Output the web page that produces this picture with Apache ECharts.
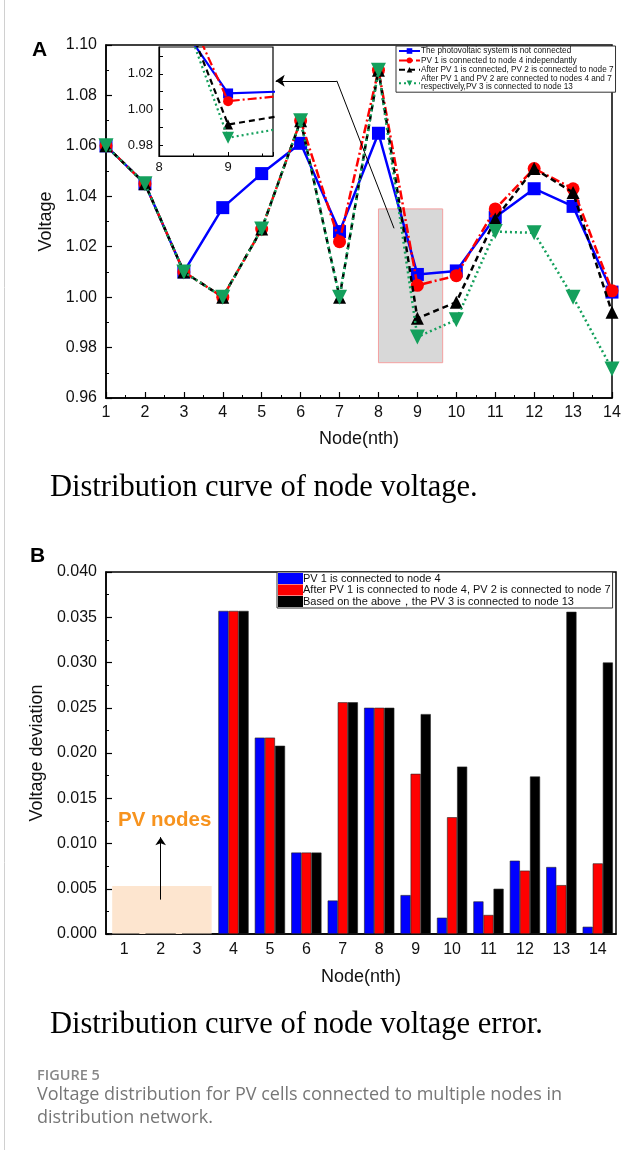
<!DOCTYPE html>
<html>
<head>
<meta charset="utf-8">
<script src="https://cdn.jsdelivr.net/npm/echarts@6/dist/echarts.min.js"></script>
<style>
  html, body { margin: 0; padding: 0; background: #fff; }
  #main { width: 639px; height: 1150px; }
</style>
</head>
<body>
<div id="main"></div>
<script>
// node numbers
var nodes = [1, 2, 3, 4, 5, 6, 7, 8, 9, 10, 11, 12, 13, 14];
var nodeLabels = ['1', '2', '3', '4', '5', '6', '7', '8', '9', '10', '11', '12', '13', '14'];

// panel A: node voltage (p.u.)
var voltNone  = [1.060, 1.045, 1.010, 1.0355, 1.049, 1.061, 1.026, 1.065, 1.009, 1.0104, 1.0317, 1.043, 1.036, 1.002];
var voltPV1   = [1.060, 1.045, 1.010, 1.000, 1.027, 1.070, 1.022, 1.090, 1.0047, 1.0085, 1.035, 1.051, 1.043, 1.0025];
var voltPV12  = [1.060, 1.045, 1.010, 1.000, 1.027, 1.070, 1.000, 1.090, 0.9916, 0.998, 1.031, 1.051, 1.0415, 0.994];
var voltPV123 = [1.060, 1.045, 1.010, 1.000, 1.027, 1.070, 1.000, 1.090, 0.9842, 0.991, 1.026, 1.0255, 1.000, 0.9715];

// zoomed region shown in the inset
var zoomX = [8, 9.65];
var zoomY = [0.974, 1.035];

// panel B: voltage deviation
var devPV1   = [0, 0, 0, 0.0357, 0.0217, 0.0090, 0.0037, 0.0250, 0.0043, 0.0018, 0.0036, 0.0081, 0.0074, 0.0008];
var devPV12  = [0, 0, 0, 0.0357, 0.0217, 0.0090, 0.0256, 0.0250, 0.0177, 0.0129, 0.0021, 0.0070, 0.0054, 0.0078];
var devPV123 = [0, 0, 0, 0.0357, 0.0208, 0.0090, 0.0256, 0.0250, 0.0243, 0.0185, 0.0050, 0.0174, 0.0356, 0.0300];

var lineNames = [
  'The photovoltaic system is not connected',
  'PV 1 is connected to node 4 independantly',
  'After PV 1 is connected, PV 2 is connected to node 7',
  'After PV 1 and PV 2 are connected to nodes 4 and 7 respectively,PV 3 is connected to node 13'
];
var barNames = [
  'PV 1 is connected to node 4',
  'After PV 1 is connected to node 4, PV 2 is connected to node 7',
  'Based on the above，the PV 3 is connected to node 13'
];

var GREEN = '#14a05c';
var FONT = 'Liberation Sans';

function pairs(arr) {
  return nodes.map(function (n, i) { return [n, arr[i]]; });
}
function pairsIn(arr) {
  var out = [];
  nodes.forEach(function (n, i) { if (n >= 8 && n <= 10) out.push([n, arr[i]]); });
  return out;
}

// line style per series: color, dash, symbol, size, rotate
var lineStyles = [
  { color: '#0000ff', type: 'solid', symbol: 'rect', size: 13, rot: 0 },
  { color: '#ff0000', type: [9, 3, 2, 3], symbol: 'circle', size: 13, rot: 0 },
  { color: '#000000', type: [6, 4], symbol: 'triangle', size: 13, rot: 0 },
  { color: GREEN, type: [2, 3], symbol: 'triangle', size: 15, rot: 180 }
];
var lineData = [voltNone, voltPV1, voltPV12, voltPV123];

var series = [];
lineData.forEach(function (arr, k) {
  var s = lineStyles[k];
  series.push({
    name: lineNames[k], type: 'line', xAxisIndex: 0, yAxisIndex: 0,
    data: pairs(arr), symbol: s.symbol, symbolSize: s.size, symbolRotate: s.rot,
    lineStyle: { color: s.color, width: 2.5, type: s.type },
    itemStyle: { color: s.color }, z: 2 + k * 0.1
  });
});
lineData.forEach(function (arr, k) {
  var s = lineStyles[k];
  series.push({
    name: lineNames[k], type: 'line', xAxisIndex: 1, yAxisIndex: 1,
    data: pairsIn(arr), symbol: s.symbol, symbolSize: s.size - 3, symbolRotate: s.rot,
    lineStyle: { color: s.color, width: 2.2, type: s.type },
    itemStyle: { color: s.color }, clip: true, z: 6 + k * 0.1
  });
});

// gray zoom box + arrow to the inset
series.push({
  type: 'line', xAxisIndex: 0, yAxisIndex: 0, data: [], clip: false, z: 10, silent: true,
  markArea: {
    silent: true,
    itemStyle: { color: 'rgba(190,190,190,0.6)', borderColor: '#f4a0a0', borderWidth: 1 },
    data: [[{ coord: [zoomX[0], zoomY[1]] }, { coord: [zoomX[1], zoomY[0]] }]]
  },
  markLine: {
    silent: true, symbol: ['none', 'none'], symbolSize: 9,
    label: { show: false },
    lineStyle: { color: '#000', width: 1, type: 'solid' },
    data: [
      [{ coord: [8.4, 1.0273] }, { coord: [6.93, 1.0858] }],
      [{ coord: [6.93, 1.0858] }, { coord: [5.36, 1.0858], symbol: 'arrow' }]
    ]
  }
});

var barColors = ['#0000ff', '#ff0000', '#000000'];
[devPV1, devPV12, devPV123].forEach(function (arr, k) {
  series.push({
    name: barNames[k], type: 'bar', xAxisIndex: 2, yAxisIndex: 2,
    data: arr, barGap: '0%', barCategoryGap: '17%',
    itemStyle: { color: barColors[k], borderColor: '#222', borderWidth: 0.6 }
  });
});

// PV nodes shading + arrow
series.push({
  type: 'line', xAxisIndex: 3, yAxisIndex: 2, data: [], clip: false, z: 1, silent: true,
  markArea: {
    silent: true,
    itemStyle: { color: '#fde5cf' },
    data: [[{ coord: [-0.33, 0.0053] }, { coord: [2.4, -0.0011] }]]
  },
  markLine: {
    silent: true, symbol: ['none', 'arrow'], symbolSize: 8,
    label: { show: false },
    lineStyle: { color: '#000', width: 1, type: 'solid' },
    data: [[{ coord: [1, 0.0038] }, { coord: [1, 0.0107] }]]
  }
});

function tickAxis(extra) {
  var base = {
    axisLine: { onZero: false, lineStyle: { color: '#000', width: 1.5 } },
    axisTick: { inside: true, length: 6, lineStyle: { color: '#000', width: 1.2 } },
    minorTick: { show: true, splitNumber: 2, length: 3, lineStyle: { color: '#000', width: 1 } },
    splitLine: { show: false },
    axisLabel: { color: '#111', fontSize: 16, fontFamily: FONT },
    nameTextStyle: { color: '#111', fontSize: 18, fontFamily: FONT }
  };
  for (var k in extra) base[k] = extra[k];
  return base;
}

var option = {
  animation: false,
  textStyle: { fontFamily: FONT },
  grid: [
    { left: 106, top: 45, width: 506, height: 353, show: true, borderColor: '#000', borderWidth: 1.5, backgroundColor: 'transparent' },
    { left: 159, top: 47, width: 114, height: 109, show: true, borderColor: '#000', borderWidth: 1.2, backgroundColor: '#fff', z: 3 },
    { left: 106, top: 572, width: 510, height: 362, show: true, borderColor: '#000', borderWidth: 1.5, backgroundColor: 'transparent' }
  ],
  legend: [
    {
      data: lineNames, orient: 'vertical', left: 396, top: 46,
      itemWidth: 21, itemHeight: 7, itemGap: 1.4, padding: [1, 2, 1, 2],
      backgroundColor: '#fff', borderColor: '#333', borderWidth: 1,
      textStyle: { fontSize: 8.2, color: '#111', fontFamily: FONT, padding: [0, 0, 0, -4] },
      formatter: function (n) { return n.replace(' respectively', '\nrespectively'); },
      selectedMode: false
    },
    {
      data: barNames, orient: 'vertical', left: 277, top: 572,
      icon: 'rect', itemWidth: 25, itemHeight: 11, itemGap: 0.5, padding: [1, 2, 1, 1],
      backgroundColor: '#fff', borderColor: '#333', borderWidth: 1,
      itemStyle: { borderWidth: 0 },
      textStyle: { fontSize: 11, color: '#111', fontFamily: FONT, padding: [0, 0, 0, -5] },
      selectedMode: false
    }
  ],
  xAxis: [
    tickAxis({ gridIndex: 0, type: 'value', min: 1, max: 14, interval: 1,
      name: 'Node(nth)', nameLocation: 'middle', nameGap: 32,
      axisLabel: { color: '#111', fontSize: 16, fontFamily: FONT, margin: 7 } }),
    tickAxis({ gridIndex: 1, type: 'value', min: zoomX[0], max: zoomX[1], interval: 1, z: 4,
      axisTick: { inside: true, length: 4, lineStyle: { color: '#000' } },
      minorTick: { show: true, splitNumber: 2, length: 2.5, lineStyle: { color: '#000' } },
      axisLine: { onZero: false, lineStyle: { color: '#000', width: 1.2 } },
      axisLabel: { color: '#111', fontSize: 13, fontFamily: FONT, margin: 5, showMaxLabel: false,
        formatter: function (v) { return Math.abs(v - Math.round(v)) < 1e-6 ? String(Math.round(v)) : ''; } } }),
    tickAxis({ gridIndex: 2, type: 'category', data: nodeLabels, boundaryGap: true,
      name: 'Node(nth)', nameLocation: 'middle', nameGap: 34,
      axisTick: { inside: true, length: 6, alignWithLabel: true, lineStyle: { color: '#000', width: 1.2 } },
      minorTick: { show: false },
      axisLabel: { color: '#111', fontSize: 16, fontFamily: FONT, margin: 8 } }),
    // hidden value axis used to place the PV nodes annotation (category i sits at value i)
    { gridIndex: 2, type: 'value', min: -0.5, max: 13.5, show: false },
    // boundary ticks between categories
    { gridIndex: 2, type: 'category', data: nodeLabels, boundaryGap: true, position: 'bottom',
      axisLine: { show: false, onZero: false }, axisLabel: { show: false },
      axisTick: { inside: true, length: 3, lineStyle: { color: '#000', width: 1 } } }
  ],
  yAxis: [
    tickAxis({ gridIndex: 0, type: 'value', min: 0.96, max: 1.10, interval: 0.02,
      name: 'Voltage', nameLocation: 'middle', nameGap: 50,
      axisLabel: { color: '#111', fontSize: 16, fontFamily: FONT, margin: 9,
        formatter: function (v) { return v.toFixed(2); } } }),
    tickAxis({ gridIndex: 1, type: 'value', min: zoomY[0], max: zoomY[1], z: 4,
      axisLine: { onZero: false, lineStyle: { color: '#000', width: 1.2 } },
      axisTick: { inside: true, length: 4, lineStyle: { color: '#000' },
        customValues: [0.98, 0.99, 1.00, 1.01, 1.02, 1.03] },
      minorTick: { show: false },
      axisLabel: { color: '#111', fontSize: 13, fontFamily: FONT, margin: 6,
        customValues: [0.98, 1.00, 1.02],
        formatter: function (v) { return v.toFixed(2); } } }),
    tickAxis({ gridIndex: 2, type: 'value', min: 0, max: 0.04, interval: 0.005,
      name: 'Voltage deviation', nameLocation: 'middle', nameGap: 60,
      axisLabel: { color: '#111', fontSize: 16, fontFamily: FONT, margin: 9,
        formatter: function (v) { return v.toFixed(3); } } })
  ],
  graphic: [
    { type: 'line', shape: { x1: 4.5, y1: 0, x2: 4.5, y2: 1150 }, style: { stroke: '#d0d0d0', lineWidth: 1 } },
    { type: 'text', x: 32, y: 50, style: { text: 'A', font: 'bold 21px "Liberation Sans"', fill: '#000', verticalAlign: 'middle' } },
    { type: 'text', x: 30, y: 556, style: { text: 'B', font: 'bold 21px "Liberation Sans"', fill: '#000', verticalAlign: 'middle' } },
    { type: 'text', x: 118, y: 820, style: { text: 'PV nodes', font: 'bold 20.5px "Liberation Sans"', fill: '#f7931e', verticalAlign: 'middle' } },
    { type: 'text', x: 50, y: 488, style: { text: 'Distribution curve of node voltage.', font: '30.5px "Liberation Serif"', fill: '#000', verticalAlign: 'middle' } },
    { type: 'text', x: 50, y: 1025, style: { text: 'Distribution curve of node voltage error.', font: '30.5px "Liberation Serif"', fill: '#000', verticalAlign: 'middle' } },
    { type: 'text', x: 37, y: 1076, style: { text: 'FIGURE 5', font: '600 14.5px "Open Sans"', fill: '#888', verticalAlign: 'middle' } },
    { type: 'text', x: 37, y: 1095, style: { text: 'Voltage distribution for PV cells connected to multiple nodes in', font: '18px "Open Sans"', fill: '#777', verticalAlign: 'middle' } },
    { type: 'text', x: 37, y: 1118, style: { text: 'distribution network.', font: '18px "Open Sans"', fill: '#777', verticalAlign: 'middle' } }
  ],
  series: series
};

var chart = echarts.init(document.getElementById('main'));
chart.setOption(option);
</script>
</body>
</html>
